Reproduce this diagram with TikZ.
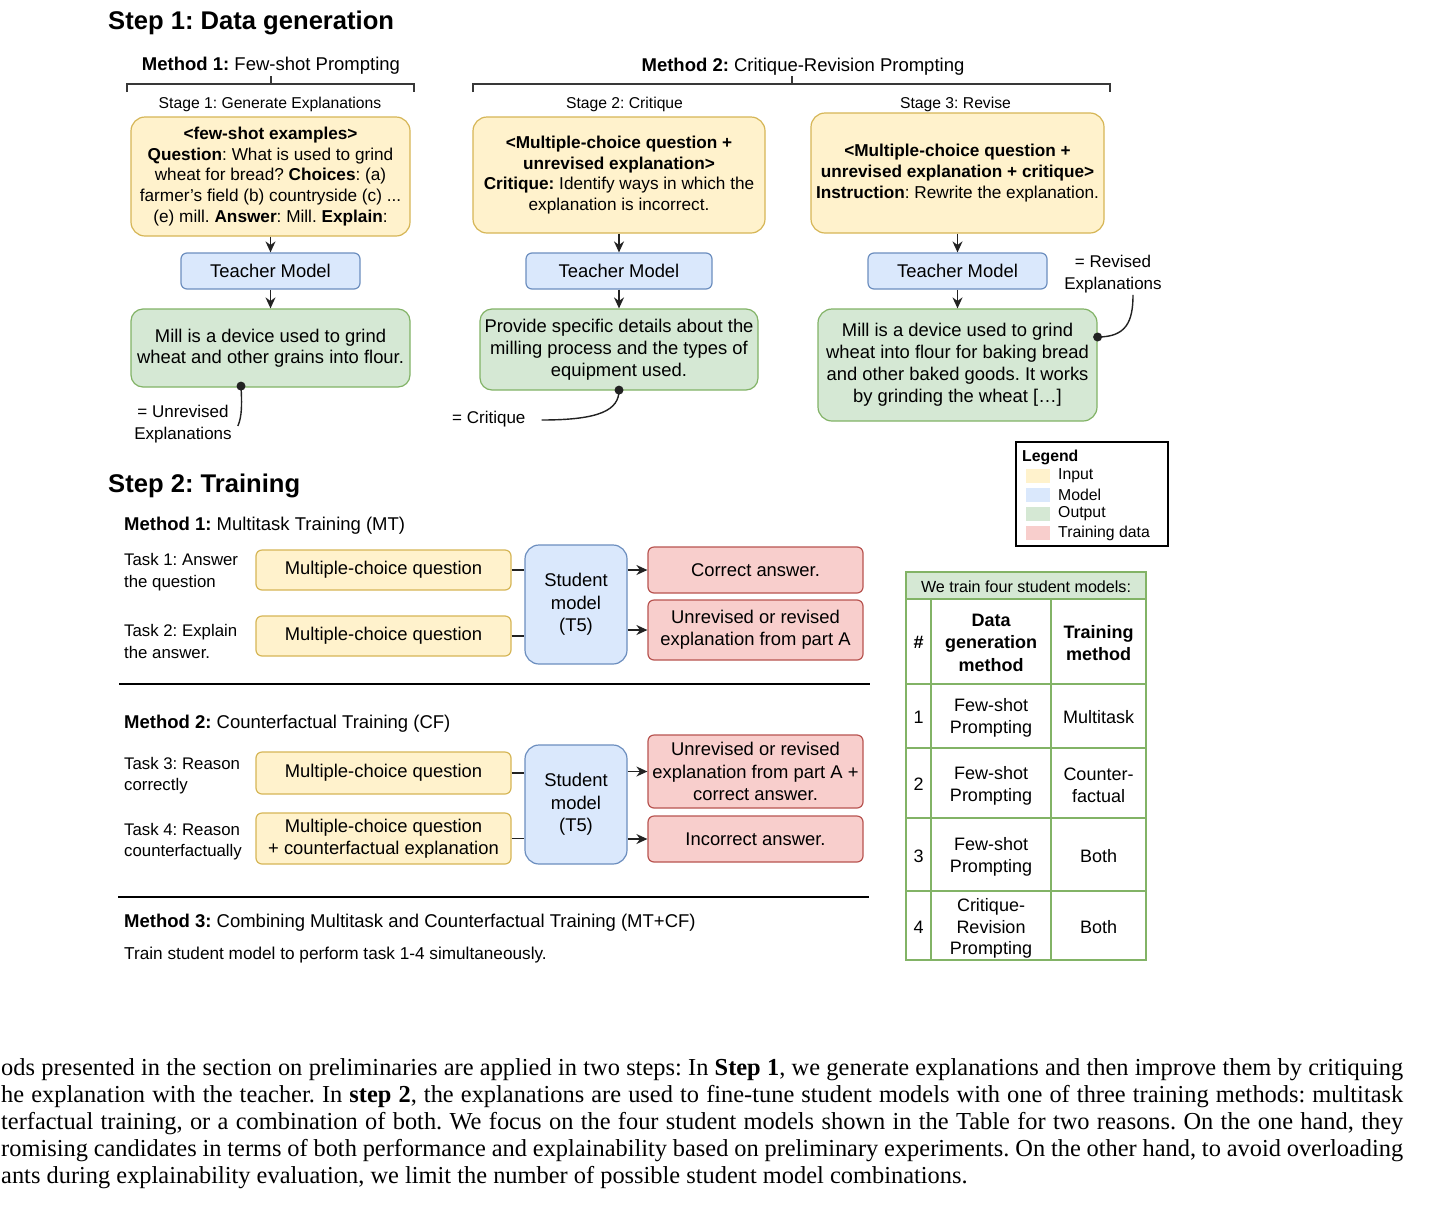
\documentclass[tikz,border=0pt]{standalone}
\usepackage{fontspec}
\setmainfont{Liberation Sans}
\newfontfamily\timesfont{Liberation Serif}
\usetikzlibrary{arrows.meta,calc}
\definecolor{yfill}{HTML}{FFF2CC}\definecolor{ydraw}{HTML}{D6B656}
\definecolor{bfill}{HTML}{DAE8FC}\definecolor{bdraw}{HTML}{6C8EBF}
\definecolor{gfill}{HTML}{D5E8D4}\definecolor{gdraw}{HTML}{82B366}
\definecolor{rfill}{HTML}{F8CECC}\definecolor{rdraw}{HTML}{B85450}
\definecolor{dk}{HTML}{222222}
\newcommand{\myfs}[2]{\fontsize{#1}{#2}\selectfont}
\begin{document}
\frenchspacing
\begin{tikzpicture}[x=1pt,y=-1pt,
  every node/.style={inner sep=0pt},
  box/.style={rounded corners=6pt,line width=1.2pt,align=center},
  ybox/.style={box,fill=yfill,draw=ydraw},
  bbox/.style={box,fill=bfill,draw=bdraw},
  gbox/.style={box,fill=gfill,draw=gdraw},
  rbox/.style={box,fill=rfill,draw=rdraw},
  arr/.style={-{Stealth[length=11pt,width=10pt]},line width=1.4pt,draw=dk},
  conn/.style={line width=1.4pt,draw=dk},
  brk/.style={line width=1.4pt,draw=dk!90},
  lbl/.style={font=\myfs{17}{21.5},align=center},
  head/.style={font=\bfseries\myfs{25.6}{30},anchor=west},
  meth/.style={font=\myfs{18.5}{22}},
  stage/.style={font=\myfs{15.7}{19}},
  intxt/.style={font=\myfs{17.2}{20.6}},
  bodytxt/.style={font=\myfs{18.4}{22}},
  task/.style={font=\myfs{16.8}{21.5},align=left,anchor=west},
  tcell/.style={font=\myfs{18}{22},align=center},
  thcell/.style={font=\bfseries\myfs{18}{22.5},align=center}
]
\fill[white] (0,0) rectangle (1455,1221);
\useasboundingbox (0,0) rectangle (1455,1221);

% ---------------- Step 1 ----------------
\node[head] (h1) at (108,23) {Step 1: Data generation};
\node[meth] (m1) at (271,66) {\textbf{Method 1:} Few-shot Prompting};
\node[meth] (m2) at (803,67) {\textbf{Method 2:} Critique-Revision Prompting};
\draw[brk] (127,92) -- (127,84) -- (414,84) -- (414,92);
\draw[brk] (271,84) -- (271,76);
\draw[brk] (473,92) -- (473,84) -- (1110,84) -- (1110,92);
\draw[brk] (792,84) -- (792,76);
\node[stage] (s1) at (270,104) {Stage 1: Generate Explanations};
\node[stage] (s2) at (624.5,104) {Stage 2: Critique};
\node[stage] (s3) at (955.5,104) {Stage 3: Revise};

\node[ybox,rounded corners=14pt,minimum width=279pt,minimum height=119pt,intxt] (a1) at (270.5,176.5)
 {\textbf{<few-shot examples>}\\\textbf{Question}: What is used to grind\\wheat for bread? \textbf{Choices}: (a)\\farmer's field (b) countryside (c) ...\\(e) mill. \textbf{Answer}: Mill. \textbf{Explain}:};
\node[ybox,rounded corners=14pt,minimum width=292pt,minimum height=116pt,intxt] (a2) at (619,175)
 {\textbf{<Multiple-choice question +}\\\textbf{unrevised explanation>}\\\textbf{Critique:} Identify ways in which the\\explanation is incorrect.};
\node[ybox,rounded corners=14pt,minimum width=293pt,minimum height=120pt,intxt] (a3) at (957.5,173)
 {\textbf{<Multiple-choice question +}\\\textbf{unrevised explanation + critique>}\\\textbf{Instruction}: Rewrite the explanation.};

\node[bbox,minimum width=179pt,minimum height=36pt,bodytxt] (tm1) at (270.5,271) {Teacher Model};
\node[bbox,minimum width=186pt,minimum height=36pt,bodytxt] (tm2) at (619,271) {Teacher Model};
\node[bbox,minimum width=179pt,minimum height=36pt,bodytxt] (tm3) at (957.5,271) {Teacher Model};

\node[gbox,rounded corners=12pt,minimum width=279pt,minimum height=78pt,bodytxt,font=\myfs{18.4}{21}] (o1) at (270.5,348)
 {Mill is a device used to grind\\wheat and other grains into flour.};
\node[gbox,rounded corners=12pt,minimum width=278pt,minimum height=81pt,bodytxt] (o2) at (619,349.5)
 {Provide specific details about the\\milling process and the types of\\equipment used.};
\node[gbox,rounded corners=14pt,minimum width=279pt,minimum height=112pt,bodytxt] (o3) at (957.5,365)
 {Mill is a device used to grind\\wheat into flour for baking bread\\and other baked goods. It works\\by grinding the wheat [\dots]};

\draw[arr] (a1) -- (tm1);
\draw[arr] (tm1) -- (o1);
\draw[arr] (a2) -- (tm2);
\draw[arr] (tm2) -- (o2);
\draw[arr] (a3) -- (tm3);
\draw[arr] (tm3) -- (o3);

% annotations
\node[lbl] (u1) at (183,424) {= Unrevised\\Explanations};
\node[lbl,anchor=west] (c1) at (452,419) {= Critique};
\node[lbl] (v1) at (1113,274) {= Revised\\Explanations};
\coordinate (d1) at ($(o1.south)+(-29.5,-1.5)$);
\coordinate (d2) at ($(o2.south)+(0,-0.5)$);
\coordinate (d3) at ($(o3.east)+(0,-28)$);
\fill[dk] (d1) circle[radius=4.5pt];
\fill[dk] (d2) circle[radius=4.5pt];
\fill[dk] (d3) circle[radius=4.5pt];
\draw[conn] (d1) .. controls (242,405) and (242,416) .. ([xshift=6pt,yshift=-2pt]u1.east);
\draw[conn] (d2) .. controls (619,410) and (600,420) .. ([xshift=16pt,yshift=-1pt]c1.east);
\draw[conn] (d3) .. controls (1126,337) and (1133,322) .. ([xshift=20pt,yshift=-2pt]v1.south);

% legend
\node[draw=black,line width=1.3pt,minimum width=152pt,minimum height=104pt] (leg) at (1092,494) {};
\node[anchor=west,font=\bfseries\myfs{15.8}{19}] (legt) at (1022,457) {Legend};
\node[fill=yfill,minimum width=24pt,minimum height=14pt] (sw1) at (1038,476) {};
\node[fill=bfill,minimum width=24pt,minimum height=14pt] (sw2) at (1038,495) {};
\node[fill=gfill,minimum width=24pt,minimum height=14pt] (sw3) at (1038,514) {};
\node[fill=rfill,minimum width=24pt,minimum height=14pt] (sw4) at (1038,533) {};
\node[anchor=west,font=\myfs{15.8}{19}] (lg1) at (1058,476) {Input};
\node[anchor=west,font=\myfs{15.8}{19}] (lg2) at (1058,495) {Model};
\node[anchor=west,font=\myfs{15.8}{19}] (lg3) at (1058,514) {Output};
\node[anchor=west,font=\myfs{15.8}{19}] (lg4) at (1058,533) {Training data};

% ---------------- Step 2 ----------------
\node[head] (h2) at (108,486) {Step 2: Training};
\node[meth,anchor=west] (mt1) at (124,526) {\textbf{Method 1:} Multitask Training (MT)};
\node[task] (t1) at (124,572) {Task 1: Answer\\the question};
\node[task] (t2) at (124,641.5) {Task 2: Explain\\the answer.};
\node[ybox,minimum width=255pt,minimum height=40pt,bodytxt] (y1) at (383.5,570) {Multiple-choice question};
\node[ybox,minimum width=255pt,minimum height=40pt,bodytxt] (y2) at (383.5,636) {Multiple-choice question};
\node[bbox,rounded corners=14pt,minimum width=102pt,minimum height=119pt,bodytxt,font=\myfs{18.4}{22.5}] (st1) at (576,604.5) {Student\\model\\(T5)};
\node[rbox,minimum width=215pt,minimum height=46pt,bodytxt] (r1) at (755.5,570) {Correct answer.};
\node[rbox,minimum width=215pt,minimum height=60pt,bodytxt] (r2) at (755.5,630) {Unrevised or revised\\explanation from part A};
\draw[conn] (y1.east) -- (y1.east -| st1.west);
\draw[conn] (y2.east) -- (y2.east -| st1.west);
\draw[arr] (r1.west -| st1.east) -- (r1.west);
\draw[arr] (r2.west -| st1.east) -- (r2.west);
\draw[line width=1.4pt] (119,684) -- (870,684);

\node[meth,anchor=west] (mt2) at (124,724) {\textbf{Method 2:} Counterfactual Training (CF)};
\node[task] (t3) at (124,775.5) {Task 3: Reason\\correctly};
\node[task] (t4) at (124,841.5) {Task 4: Reason\\counterfactually};
\node[ybox,minimum width=255pt,minimum height=42pt,bodytxt] (y3) at (383.5,773) {Multiple-choice question};
\node[ybox,minimum width=255pt,minimum height=51pt,bodytxt] (y4) at (383.5,838.5) {Multiple-choice question\\+ counterfactual explanation};
\node[bbox,rounded corners=14pt,minimum width=102pt,minimum height=119pt,bodytxt,font=\myfs{18.4}{22.5}] (st2) at (576,804.5) {Student\\model\\(T5)};
\node[rbox,minimum width=215pt,minimum height=73pt,bodytxt,font=\myfs{18.4}{22.5}] (r3) at (755.5,771.5) {Unrevised or revised\\explanation from part A +\\correct answer.};
\node[rbox,minimum width=215pt,minimum height=46pt,bodytxt] (r4) at (755.5,839) {Incorrect answer.};
\draw[conn] (y3.east) -- (y3.east -| st2.west);
\draw[conn] (y4.east) -- (y4.east -| st2.west);
\draw[arr] (r3.west -| st2.east) -- (r3.west);
\draw[arr] (r4.west -| st2.east) -- (r4.west);
\draw[line width=1.4pt] (118,897) -- (869,897);

\node[meth,anchor=west] (mt3) at (124,923) {\textbf{Method 3:} Combining Multitask and Counterfactual Training (MT+CF)};
\node[anchor=west,font=\myfs{17.2}{20}] (mt3t) at (124,955) {Train student model to perform task 1-4 simultaneously.};

% ---------------- Table ----------------
\fill[white] (906,572) rectangle (1146,960);
\fill[gfill] (906,572) rectangle (1146,599);
\draw[gdraw,line width=1.2pt] (906,572) rectangle (1146,960);
\foreach \yy in {599,684,748,818,891} \draw[gdraw,line width=1.2pt] (906,\yy) -- (1146,\yy);
\foreach \xx in {931,1051} \draw[gdraw,line width=1.2pt] (\xx,599) -- (\xx,960);
\node[font=\myfs{16.1}{19}] (tt) at (1026,587) {We train four student models:};
\node[thcell] (th1) at (918.5,642.5) {\#};
\node[thcell] (th2) at (991,642.5) {Data\\generation\\method};
\node[thcell] (th3) at (1098.5,643) {Training\\method};
\node[tcell] (n1) at (918.5,717) {1};
\node[tcell] (n2) at (918.5,784) {2};
\node[tcell] (n3) at (918.5,856) {3};
\node[tcell] (n4) at (918.5,927) {4};
\node[tcell] (d1t) at (991,718) {Few-shot\\Prompting};
\node[tcell] (d2t) at (991,785.5) {Few-shot\\Prompting};
\node[tcell] (d3t) at (991,857) {Few-shot\\Prompting};
\node[tcell,font=\myfs{18}{21.5}] (d4t) at (991,928.5) {Critique-\\Revision\\Prompting};
\node[tcell] (m1t) at (1098.5,717) {Multitask};
\node[tcell] (m2t) at (1098.5,785.5) {Counter-\\factual};
\node[tcell] (m3t) at (1098.5,856) {Both};
\node[tcell] (m4t) at (1098.5,927) {Both};

% ---------------- Paragraph ----------------
\begin{scope}[every node/.style={inner sep=0pt,anchor=base west,font=\timesfont\myfs{24.4}{27}}]
\node (p1) at (1,1075) {\makebox[1402pt][s]{ods presented in the section on preliminaries are applied in two steps: In \textbf{Step 1}, we generate explanations and then improve them by critiquing}};
\node (p2) at (1,1102) {\makebox[1402pt][s]{he explanation with the teacher. In \textbf{step 2}, the explanations are used to fine-tune student models with one of three training methods: multitask}};
\node (p3) at (1,1129) {\makebox[1402pt][s]{terfactual training, or a combination of both. We focus on the four student models shown in the Table for two reasons. On the one hand, they}};
\node (p4) at (1,1156) {\makebox[1402pt][s]{romising candidates in terms of both performance and explainability based on preliminary experiments. On the other hand, to avoid overloading}};
\node (p5) at (1,1183) {ants during explainability evaluation, we limit the number of possible student model combinations.};
\end{scope}
\end{tikzpicture}
\end{document}
